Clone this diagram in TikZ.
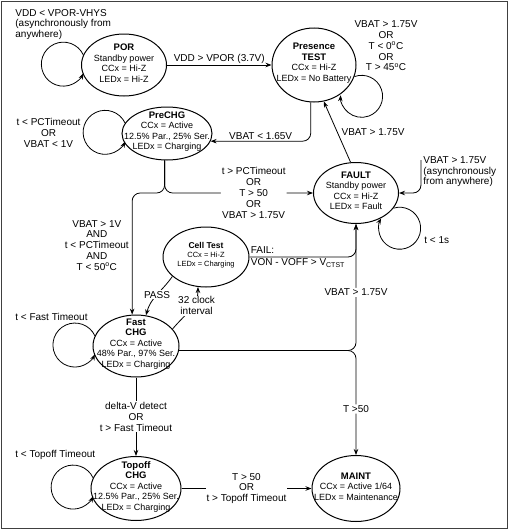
\documentclass[tikz,border=0pt]{standalone}
\usepackage{fontspec}
\setmainfont{Liberation Sans}
\usetikzlibrary{arrows.meta,shapes.geometric}

\tikzset{
  state/.style 2 args={draw, ellipse, line width=1pt, minimum width=#1, minimum height=#2, inner sep=0pt},
  stext/.style={align=center, inner sep=0pt, yshift=2pt, font=\fontsize{9}{10.5}\selectfont},
  lbl/.style={align=center, inner sep=1pt, font=\fontsize{10}{10.8}\selectfont},
  wlbl/.style={lbl, fill=white},
}
\newcommand{\sttl}[1]{{\fontsize{9.5}{10.5}\selectfont\bfseries #1}}
\newcommand{\leftloop}[1]{\draw[->] (#1.166) arc[start angle=25, end angle=335, radius=22pt];}

\begin{document}
\begin{tikzpicture}[x=1pt, y=-1pt, line width=0.8pt, >={Stealth[length=6pt,width=4.5pt]}]
  \useasboundingbox (0,0) rectangle (509,530);
  \draw[line width=1.5pt, black!75] (1.5,1.5) rectangle (507.5,528.5);
  % states
  \node[state={85}{62}] (POR) at (124,65) {};
  \node[state={84}{74}] (PT) at (314,65) {};
  \node[state={90}{53}] (PreCHG) at (167,133.5) {};
  \node[state={85}{61}] (FAULT) at (356,193) {};
  \node[state={86}{60}] (CellTest) at (206,257) {};
  \node[state={86}{62}] (Fast) at (136,346) {};
  \node[state={90}{64}] (Topoff) at (136,488.5) {};
  \node[state={88}{66}] (MAINT) at (356,488.5) {};
  \node[stext] (PORt) at (POR) {\sttl{POR}\\Standby power\\CCx = Hi-Z\\LEDx = Hi-Z};
  \node[stext] (PTt) at (PT) {\sttl{Presence}\\\sttl{TEST}\\CCx = Hi-Z\\LEDx = No Battery};
  \node[stext] (PreCHGt) at (PreCHG) {\sttl{PreCHG}\\CCx = Active\\12.5\% Par., 25\% Ser.\\LEDx = Charging};
  \node[stext] (FAULTt) at (FAULT) {\sttl{FAULT}\\Standby power\\CCx = Hi-Z\\LEDx = Fault};
  \node[stext, font=\fontsize{7.5}{9}\selectfont] (CellTestt) at (CellTest) {{\fontsize{8.5}{9.5}\selectfont\bfseries Cell Test}\\CCx = Hi-Z\\LEDx = Charging};
  \node[stext] (Fastt) at (Fast) {\sttl{Fast}\\\sttl{CHG}\\CCx = Active\\48\% Par., 97\% Ser.\\LEDx = Charging};
  \node[stext] (Topofft) at (Topoff) {\sttl{Topoff}\\\sttl{CHG}\\CCx = Active\\12.5\% Par., 25\% Ser.\\LEDx = Charging};
  \node[stext] (MAINTt) at (MAINT) {\sttl{MAINT}\\CCx = Active 1/64\\LEDx = Maintenance};
  % self loops
  \leftloop{POR}
  \leftloop{PreCHG}
  \leftloop{Fast}
  \leftloop{Topoff}
  \draw[->] (PT.-16) arc[start angle=110, end angle=-183, radius=21pt];
  \draw[->] (FAULT.-22) arc[start angle=107, end angle=-208, radius=21pt];
  \node[lbl, align=left, anchor=west] (PORloopl) at (14,24.5) {VDD < VPOR-VHYS\\(asynchronously from\\anywhere)};
  \node[lbl] (PTloopl) at (386,46) {VBAT > 1.75V\\OR\\T < 0\textsuperscript{o}C\\OR\\T > 45\textsuperscript{o}C};
  \node[lbl] (PreCHGloopl) at (48.5,133) {t < PCTimeout\\OR\\VBAT < 1V};
  \node[lbl, anchor=west] (Fastloopl) at (14,317) {t < Fast Timeout};
  \node[lbl, anchor=west] (Topoffloopl) at (14,455) {t < Topoff Timeout};
  \node[lbl, anchor=west] (FAULTloopl) at (423,240) {t < 1s};
  % transitions
  \draw[->] (POR) -- node[lbl, above] {VDD > VPOR (3.7V)} (PT);
  \draw[->, rounded corners=8pt] (PT.265) |- node[lbl, above, pos=0.75] {VBAT < 1.65V} (PreCHG.-10);
  \draw[->] (FAULT.100) -- node[lbl, right=3pt] {VBAT > 1.75V} (PT.-75);
  \draw[->, rounded corners=8pt] (PreCHG.-95) |- node[wlbl, pos=0.8] {t > PCTimeout\\OR\\T > 50\\OR\\VBAT > 1.75V} (FAULT.west);
  \draw[->, rounded corners=8pt] (PreCHG.-95) |- (Fast.97 |- FAULT.west) -- node[lbl, left=2pt, pos=0.43] {VBAT > 1V\\AND\\t < PCTimeout\\AND\\T < 50\textsuperscript{o}C} (Fast.97);
  \coordinate (async) at (421,160);
  \draw[->, rounded corners=8pt] (async) node[lbl, align=left, anchor=north west, yshift=5pt, xshift=1pt] (asyncl) {VBAT > 1.75V\\(asynchronously\\from anywhere)} |- (FAULT.east);
  \draw[->, rounded corners=8pt] (CellTest.east) -| node[lbl, align=left, anchor=west, pos=0, font=\fontsize{10}{12}\selectfont] {FAIL:\\VON - VOFF > V\textsubscript{CTST}} (FAULT.south);
  \draw[->] (CellTest.210) to[out=235, in=75] node[wlbl] {PASS} (Fast.72);
  \draw[->] (Fast.25) to[out=50, in=-90] node[wlbl, pos=0.6, xshift=4pt] {32 clock\\interval} (CellTest.255);
  \draw[->, rounded corners=8pt] (Fast.-6) -| node[wlbl, pos=0.73] {VBAT > 1.75V} (FAULT.south);
  \draw[->, rounded corners=8pt] (Fast.-6) -| node[wlbl, pos=0.78] {T >50} (MAINT.north);
  \draw[->] (Fast) -- node[wlbl] {delta-V detect\\OR\\t > Fast Timeout} (Topoff);
  \draw[->] (Topoff) -- node[wlbl] {T > 50\\OR\\t > Topoff Timeout} (MAINT);
\end{tikzpicture}
\end{document}
